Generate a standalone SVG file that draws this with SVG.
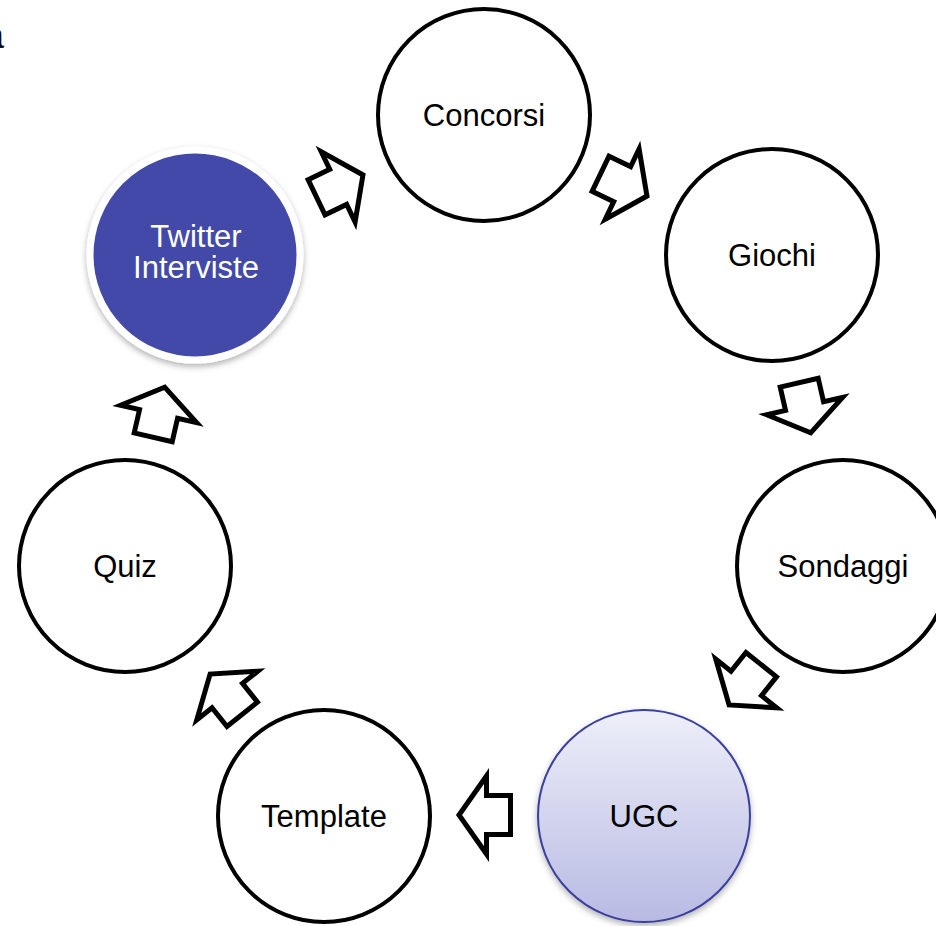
<svg xmlns="http://www.w3.org/2000/svg" width="936" height="926" viewBox="0 0 936 926">
<style>
.node{fill:#fff;stroke:#000;stroke-width:4}
.lbl{font-family:"Liberation Sans",Arial,sans-serif;font-size:31px;text-anchor:middle;fill:#000}
.arrow{fill:#fff;stroke:#000;stroke-width:5;stroke-linejoin:miter;stroke-miterlimit:10}
</style>
<defs>
<linearGradient id="ugcGrad" x1="0" y1="0" x2="0" y2="1">
<stop offset="0" stop-color="#EEEFF9"/>
<stop offset="1" stop-color="#B8BAE3"/>
</linearGradient>
<filter id="shadow" x="-20%" y="-20%" width="140%" height="140%">
<feDropShadow dx="0" dy="3" stdDeviation="3" flood-color="#000" flood-opacity="0.3"/>
</filter>
<polygon id="arr" points="-26,-19.5 -2,-19.5 -2,-39 25.5,0 -2,39 -2,19.5 -26,19.5"/>
</defs>
<rect width="936" height="926" fill="#fff"/>
<text x="-16" y="48" font-family="Liberation Sans,Arial,sans-serif" font-size="36" fill="#000">a</text>
<g id="connectors">
<use href="#arr" class="arrow" transform="translate(340,186) rotate(-25.7)"/>
<use href="#arr" class="arrow" transform="translate(624,185) rotate(25.7)"/>
<use href="#arr" class="arrow" transform="translate(805,408) rotate(77.1)"/>
<use href="#arr" class="arrow" transform="translate(745,685) rotate(128.6)"/>
<use href="#arr" class="arrow" transform="translate(484.5,815) rotate(180)"/>
<use href="#arr" class="arrow" transform="translate(226,694) rotate(231.4)"/>
<use href="#arr" class="arrow" transform="translate(159,412) rotate(282.9)"/>
</g>
<g id="concorsi">
<circle class="node" cx="484" cy="115" r="106"/>
<text class="lbl" x="484" y="126">Concorsi</text>
</g>
<g id="giochi">
<circle class="node" cx="772" cy="255" r="106"/>
<text class="lbl" x="772" y="266">Giochi</text>
</g>
<g id="sondaggi">
<circle class="node" cx="843" cy="566" r="106"/>
<text class="lbl" x="843" y="577">Sondaggi</text>
</g>
<g id="ugc">
<circle cx="644" cy="816" r="106" fill="url(#ugcGrad)" stroke="#3A3F9E" stroke-width="2" filter="url(#shadow)"/>
<text class="lbl" x="644" y="827">UGC</text>
</g>
<g id="template">
<circle class="node" cx="324" cy="816" r="106"/>
<text class="lbl" x="324" y="827">Template</text>
</g>
<g id="quiz">
<circle class="node" cx="125" cy="566" r="106"/>
<text class="lbl" x="125" y="577">Quiz</text>
</g>
<g id="twitter">
<circle cx="195" cy="255" r="105" fill="#4349A8" stroke="#fff" stroke-width="7" filter="url(#shadow)"/>
<text class="lbl" style="fill:#fff"><tspan x="196" y="247">Twitter</tspan><tspan x="196" y="278">Interviste</tspan></text>
</g>
</svg>
